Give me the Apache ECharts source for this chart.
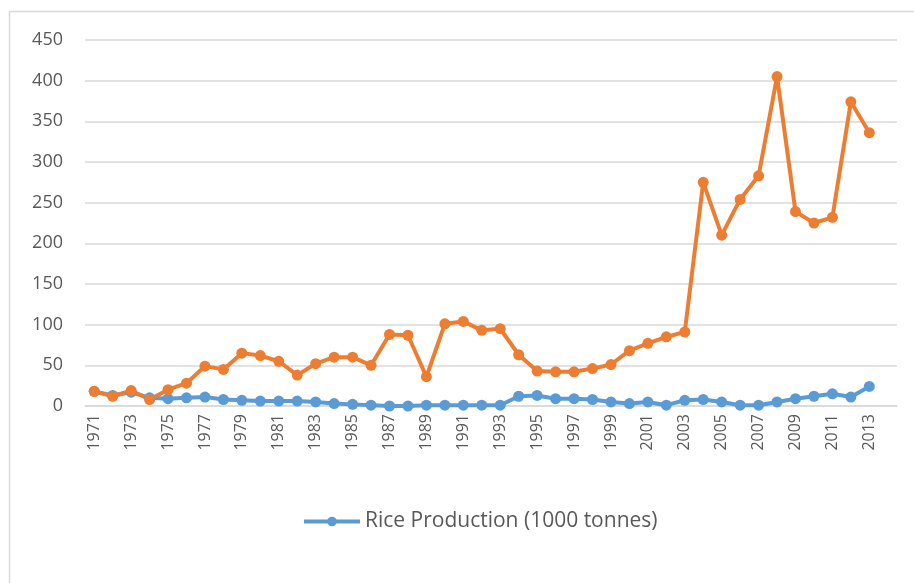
<!DOCTYPE html>
<html>
<head>
<meta charset="utf-8">
<script src="https://cdn.jsdelivr.net/npm/echarts@6/dist/echarts.min.js"></script>
<style>
  html, body { margin: 0; padding: 0; background: #fff; }
  #chart { width: 914px; height: 583px; }
</style>
</head>
<body>
<div id="chart"></div>
<script>
// years on the axis (last slot is empty in the source sheet)
const years = [
  '1971', '1972', '1973', '1974', '1975', '1976', '1977', '1978', '1979', '1980',
  '1981', '1982', '1983', '1984', '1985', '1986', '1987', '1988', '1989', '1990',
  '1991', '1992', '1993', '1994', '1995', '1996', '1997', '1998', '1999', '2000',
  '2001', '2002', '2003', '2004', '2005', '2006', '2007', '2008', '2009', '2010',
  '2011', '2012', '2013', '2014',
];

const riceProduction = [
  18, 13, 17, 10, 9, 10, 11, 8, 7, 6,
  6, 6, 5, 3, 2, 1, 0, 0, 1, 1,
  1, 1, 1, 12, 13, 9, 9, 8, 5, 3,
  5, 1, 7, 8, 5, 1, 1, 5, 9, 12,
  15, 11, 24, null,
];

const secondSeries = [
  18, 12, 19, 8, 20, 28, 49, 45, 65, 62,
  55, 38, 52, 60, 60, 50, 88, 87, 36, 101,
  104, 93, 95, 63, 43, 42, 42, 46, 51, 68,
  77, 85, 91, 275, 210, 254, 283, 405, 239, 225,
  232, 374, 336, null,
];

const yTicks = { min: 0, max: 450, interval: 50 };

const textColor = '#595959';
const gridColor = '#d9d9d9';

const chart = echarts.init(document.getElementById('chart'));

const option = {
  backgroundColor: '#fff',
  animation: false,
  textStyle: { fontFamily: 'Open Sans' },
  graphic: [
    {
      type: 'rect',
      shape: { x: 9.5, y: 11.5, width: 940, height: 620 },
      style: { fill: 'none', stroke: gridColor, lineWidth: 1.5 },
      silent: true,
    },
  ],
  grid: {
    left: 85,
    right: 17,
    top: 40,
    bottom: 177,
  },
  legend: {
    data: ['Rice Production (1000 tonnes)'],
    left: 297,
    top: 506,
    itemWidth: 56,
    itemHeight: 12,
    itemGap: 4,
    lineStyle: { width: 4 },
    textStyle: { color: textColor, fontSize: 21, fontFamily: 'Open Sans' },
  },
  xAxis: {
    type: 'category',
    data: years,
    boundaryGap: true,
    axisTick: { show: false },
    axisLine: { lineStyle: { color: gridColor, width: 1.5 } },
    axisLabel: {
      rotate: 90,
      interval: 1,
      margin: 8,
      color: textColor,
      fontSize: 16,
    },
  },
  yAxis: {
    type: 'value',
    min: yTicks.min,
    max: yTicks.max,
    interval: yTicks.interval,
    axisLine: { show: false },
    axisTick: { show: false },
    axisLabel: { color: textColor, fontSize: 18, margin: 22 },
    splitLine: { lineStyle: { color: gridColor, width: 1.5 } },
  },
  series: [
    {
      name: 'Rice Production (1000 tonnes)',
      type: 'line',
      data: riceProduction,
      symbol: 'circle',
      symbolSize: 11,
      color: '#5b9bd5',
      lineStyle: { width: 4 },
    },
    {
      name: 'Series 2',
      type: 'line',
      data: secondSeries,
      symbol: 'circle',
      symbolSize: 11,
      color: '#ed7d31',
      lineStyle: { width: 4 },
    },
  ],
};

chart.setOption(option);
</script>
</body>
</html>
